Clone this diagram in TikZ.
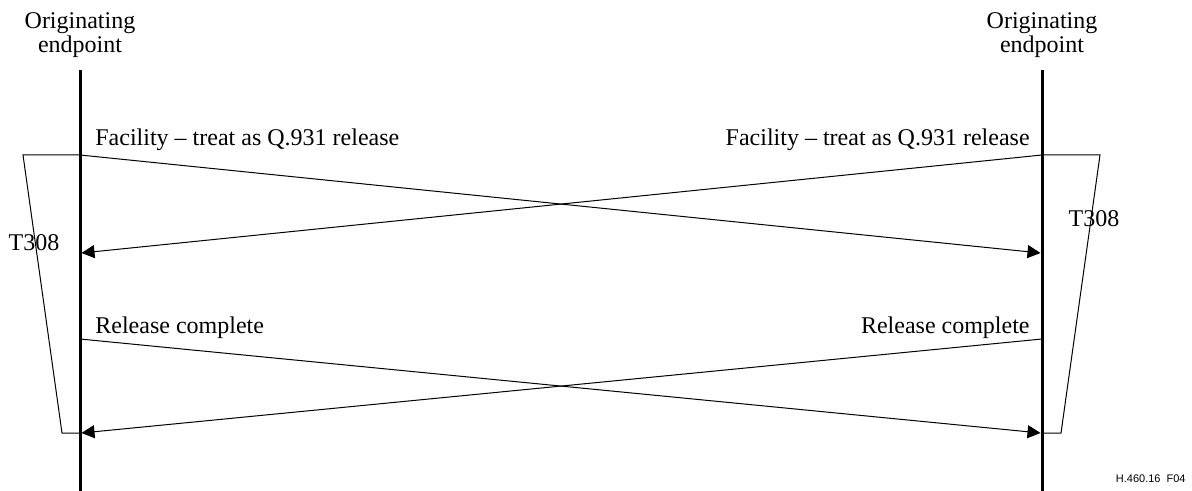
\documentclass[tikz,border=0pt]{standalone}
\usepackage{fontspec}
\setmainfont{Liberation Serif}
\setsansfont{Liberation Sans}
\usetikzlibrary{arrows.meta}
\tikzset{
  life/.style={line width=1.5pt},
  msg/.style={line width=0.5pt,-{Triangle[length=6.5pt,width=6.5pt]}},
  timer/.style={line width=0.5pt},
  lbl/.style={inner sep=0pt,font=\fontsize{12}{12}\selectfont},
}
\begin{document}
\begin{tikzpicture}[x=0.5pt,y=-0.5pt]
\useasboundingbox (0,0) rectangle (1192,491);
% endpoints
\node[lbl, align=center, anchor=base] (hl) at (80,53) {Originating\\endpoint};
\node[lbl, align=center, anchor=base] (hr) at (1042,53) {Originating\\endpoint};
\coordinate (lt) at (80,70);
\coordinate (lb) at (80,491);
\coordinate (rt) at (1042,70);
\coordinate (rb) at (1042,491);
\draw[life] (lt) -- (lb);
\draw[life] (rt) -- (rb);
% message points
\coordinate (l1) at (80,155);
\coordinate (l2) at (81.5,253);
\coordinate (l3) at (80,339);
\coordinate (l4) at (81.5,433);
\coordinate (r1) at (1042,155);
\coordinate (r2) at (1040.5,253);
\coordinate (r3) at (1042,339);
\coordinate (r4) at (1040.5,433);
\draw[msg] (l1) -- (r2);
\draw[msg] (r1) -- (l2);
\draw[msg] (l3) -- (r4);
\draw[msg] (r3) -- (l4);
\node[lbl, anchor=base west] (fl) at (95,146) {Facility -- treat as Q.931 release};
\node[lbl, anchor=base east] (fr) at (1030,146) {Facility -- treat as Q.931 release};
\node[lbl, anchor=base west] (cl) at (95,334) {Release complete};
\node[lbl, anchor=base east] (cr) at (1030,334) {Release complete};
% timers
\coordinate (tl1) at (23,155);
\coordinate (tl2) at (62,433);
\coordinate (tr1) at (1100,155);
\coordinate (tr2) at (1061,433);
\draw[timer] (l1) -- (tl1) -- (tl2) -- (80,433);
\draw[timer] (r1) -- (tr1) -- (tr2) -- (1042,433);
\node[lbl] (tl) at (34,243) {T308};
\node[lbl] (tr) at (1094,219) {T308};
\node[anchor=base east, inner sep=0pt, font=\sffamily\fontsize{5.5}{6}\selectfont] (fig) at (1186,482) {H.460.16\ \ F04};
\end{tikzpicture}
\end{document}
